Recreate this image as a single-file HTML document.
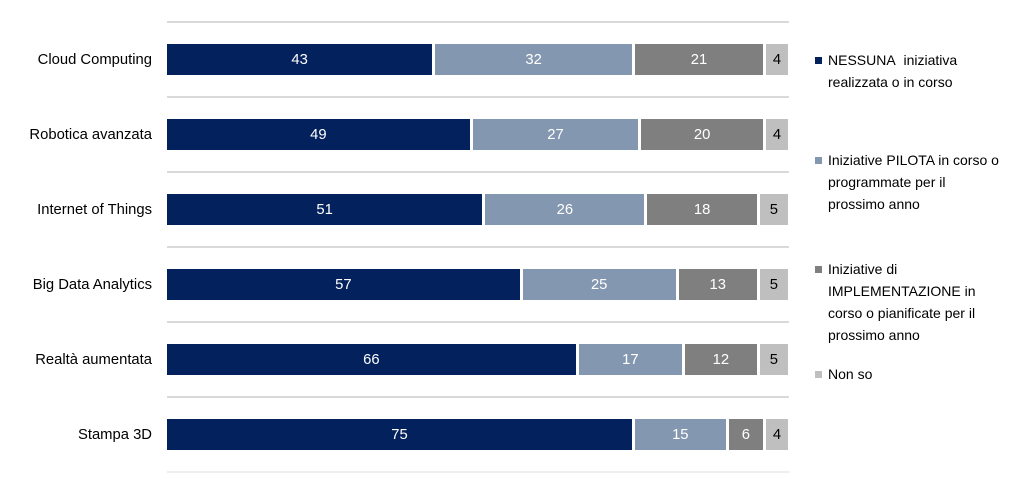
<!DOCTYPE html>
<html><head><meta charset="utf-8"><style>
body{margin:0;width:1024px;height:480px;background:#fff;font-family:"Liberation Sans",sans-serif;position:relative;overflow:hidden}
.g{position:absolute;left:167px;width:622px;height:2px;background:#d9d9d9}
.lab{position:absolute;right:872px;font-size:14.8px;color:#000;white-space:nowrap;line-height:16px}
.bar{position:absolute;left:167px;width:624px;height:31px;display:flex}
.bar div{height:31px;margin-right:3px;color:#fff;font-size:14.8px;display:flex;align-items:center;justify-content:center}
.a{background:#03215c}.b{background:#8497b0}.c{background:#7f7f7f}.d{background:#bfbfbf;color:#000!important}
.leg{position:absolute;left:815px;font-size:14px;line-height:22px;color:#000}
.leg i{position:absolute;left:0;top:8px;width:7px;height:7px}
.leg span{display:block;padding-left:13px}
</style></head><body>
<div class="g" style="top:21px"></div><div class="g" style="top:96px"></div><div class="g" style="top:171px"></div><div class="g" style="top:246px"></div><div class="g" style="top:321px"></div><div class="g" style="top:396px"></div><div class="g" style="top:471px;background:#eee"></div>

<div class="lab" style="top:52px">Cloud Computing</div>
<div class="lab" style="top:127px">Robotica avanzata</div>
<div class="lab" style="top:202px">Internet of Things</div>
<div class="lab" style="top:277px">Big Data Analytics</div>
<div class="lab" style="top:352px">Realtà aumentata</div>
<div class="lab" style="top:427px">Stampa 3D</div>

<div class="bar" style="top:44px"><div class="a" style="width:calc(43% - 3px)">43</div><div class="b" style="width:calc(32% - 3px)">32</div><div class="c" style="width:calc(21% - 3px)">21</div><div class="d" style="width:calc(4% - 3px)">4</div></div>
<div class="bar" style="top:119px"><div class="a" style="width:calc(49% - 3px)">49</div><div class="b" style="width:calc(27% - 3px)">27</div><div class="c" style="width:calc(20% - 3px)">20</div><div class="d" style="width:calc(4% - 3px)">4</div></div>
<div class="bar" style="top:194px"><div class="a" style="width:calc(51% - 3px)">51</div><div class="b" style="width:calc(26% - 3px)">26</div><div class="c" style="width:calc(18% - 3px)">18</div><div class="d" style="width:calc(5% - 3px)">5</div></div>
<div class="bar" style="top:269px"><div class="a" style="width:calc(57% - 3px)">57</div><div class="b" style="width:calc(25% - 3px)">25</div><div class="c" style="width:calc(13% - 3px)">13</div><div class="d" style="width:calc(5% - 3px)">5</div></div>
<div class="bar" style="top:344px"><div class="a" style="width:calc(66% - 3px)">66</div><div class="b" style="width:calc(17% - 3px)">17</div><div class="c" style="width:calc(12% - 3px)">12</div><div class="d" style="width:calc(5% - 3px)">5</div></div>
<div class="bar" style="top:419px"><div class="a" style="width:calc(75% - 3px)">75</div><div class="b" style="width:calc(15% - 3px)">15</div><div class="c" style="width:calc(6% - 3px)">6</div><div class="d" style="width:calc(4% - 3px)">4</div></div>

<div class="leg" style="top:49px"><i style="background:#03215c"></i><span>NESSUNA&nbsp; iniziativa<br>realizzata o in corso</span></div>
<div class="leg" style="top:149px"><i style="background:#8497b0"></i><span>Iniziative PILOTA in corso o<br>programmate per il<br>prossimo anno</span></div>
<div class="leg" style="top:258px"><i style="background:#7f7f7f"></i><span>Iniziative di<br>IMPLEMENTAZIONE in<br>corso o pianificate per il<br>prossimo anno</span></div>
<div class="leg" style="top:363px"><i style="background:#bfbfbf"></i><span>Non so</span></div>
</body></html>
